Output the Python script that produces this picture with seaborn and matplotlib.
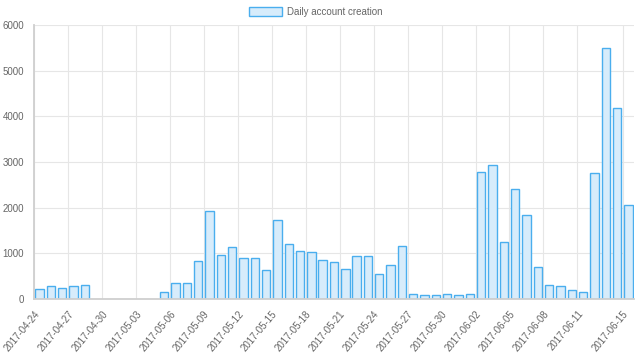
import pandas as pd
import matplotlib
matplotlib.use("Agg")
import matplotlib.pyplot as plt
import seaborn as sns

# Daily account creation, 2017-04-24 .. 2017-06-15
days = pd.date_range("2017-04-24", "2017-06-15", freq="D").strftime("%Y-%m-%d").tolist()
accounts = [
    220, 290, 240, 285, 305, 0, 0,                      # Apr 24-30
    0, 0, 0, 0, 150, 340, 340, 835, 1920, 970,          # May 1-10
    1145, 900, 900, 640, 1730, 1215, 1045, 1030, 858, 800,  # May 11-20
    647, 945, 945, 538, 749, 1164, 116, 95, 95, 116, 80,    # May 21-31
    102, 2778, 2931, 1251, 2407, 1847, 698, 313, 276, 189,  # Jun 1-10
    160, 2756, 5491, 4189, 2058,                        # Jun 11-15
]
y_ticks = [0, 1000, 2000, 3000, 4000, 5000, 6000]

df = pd.DataFrame({"day": days, "accounts": accounts})

sns.set_style("white")
plt.rcParams["font.family"] = ["Liberation Sans", "DejaVu Sans"]

TEXT = "#666666"
GRID = "#e6e6e6"
AXIS = "#cfcfcf"
FILL = "#d7ecfb"
EDGE = "#4aaeee"

fig = plt.figure(figsize=(6.4, 3.6), dpi=100)
ax = fig.add_axes([34 / 640, 1 - 299 / 360, 600 / 640, 274 / 360])

sns.barplot(data=df, x="day", y="accounts", color=FILL, saturation=1,
            edgecolor=EDGE, linewidth=1.0, width=0.74, ax=ax,
            label="Daily account creation", zorder=3)

# days with no accounts get no outline either
for p in ax.patches:
    if p.get_height() == 0:
        p.set_linewidth(0)

# tick labels every 3 days plus the last day, sitting on the bar boundaries
n = len(days)
idx = list(range(0, n - 3, 3)) + [n - 1]
ax.set_xticks([i - 0.5 for i in idx])
ax.set_xticklabels([days[i] for i in idx], rotation=50, ha="right",
                   rotation_mode="anchor", fontsize=7, color=TEXT)
ax.set_xlim(-0.5, n - 0.5)

ax.set_ylim(0, 6000)
ax.set_yticks(y_ticks)
ax.set_yticklabels([str(v) for v in y_ticks], fontsize=7, color=TEXT)

ax.set_xlabel("")
ax.set_ylabel("")
ax.grid(True, color=GRID, linewidth=0.8, zorder=0)
ax.set_axisbelow(True)
ax.tick_params(axis="x", length=4, color=GRID, pad=3)
ax.tick_params(axis="y", length=5, color=GRID, pad=2)

for side in ("top", "right"):
    ax.spines[side].set_visible(False)
for side in ("left", "bottom"):
    ax.spines[side].set_color(AXIS)
    ax.spines[side].set_linewidth(1.3)
    ax.spines[side].set_zorder(4)

if ax.legend_:
    ax.legend_.remove()
handles, labels = ax.get_legend_handles_labels()
fig.legend(handles[:1], labels[:1], loc="upper center", bbox_to_anchor=(0.493, 1.005),
           frameon=False, fontsize=7, labelcolor=TEXT, handlelength=3.4,
           handleheight=1.0, handletextpad=0.5)

fig.savefig("out.png", dpi=100)
